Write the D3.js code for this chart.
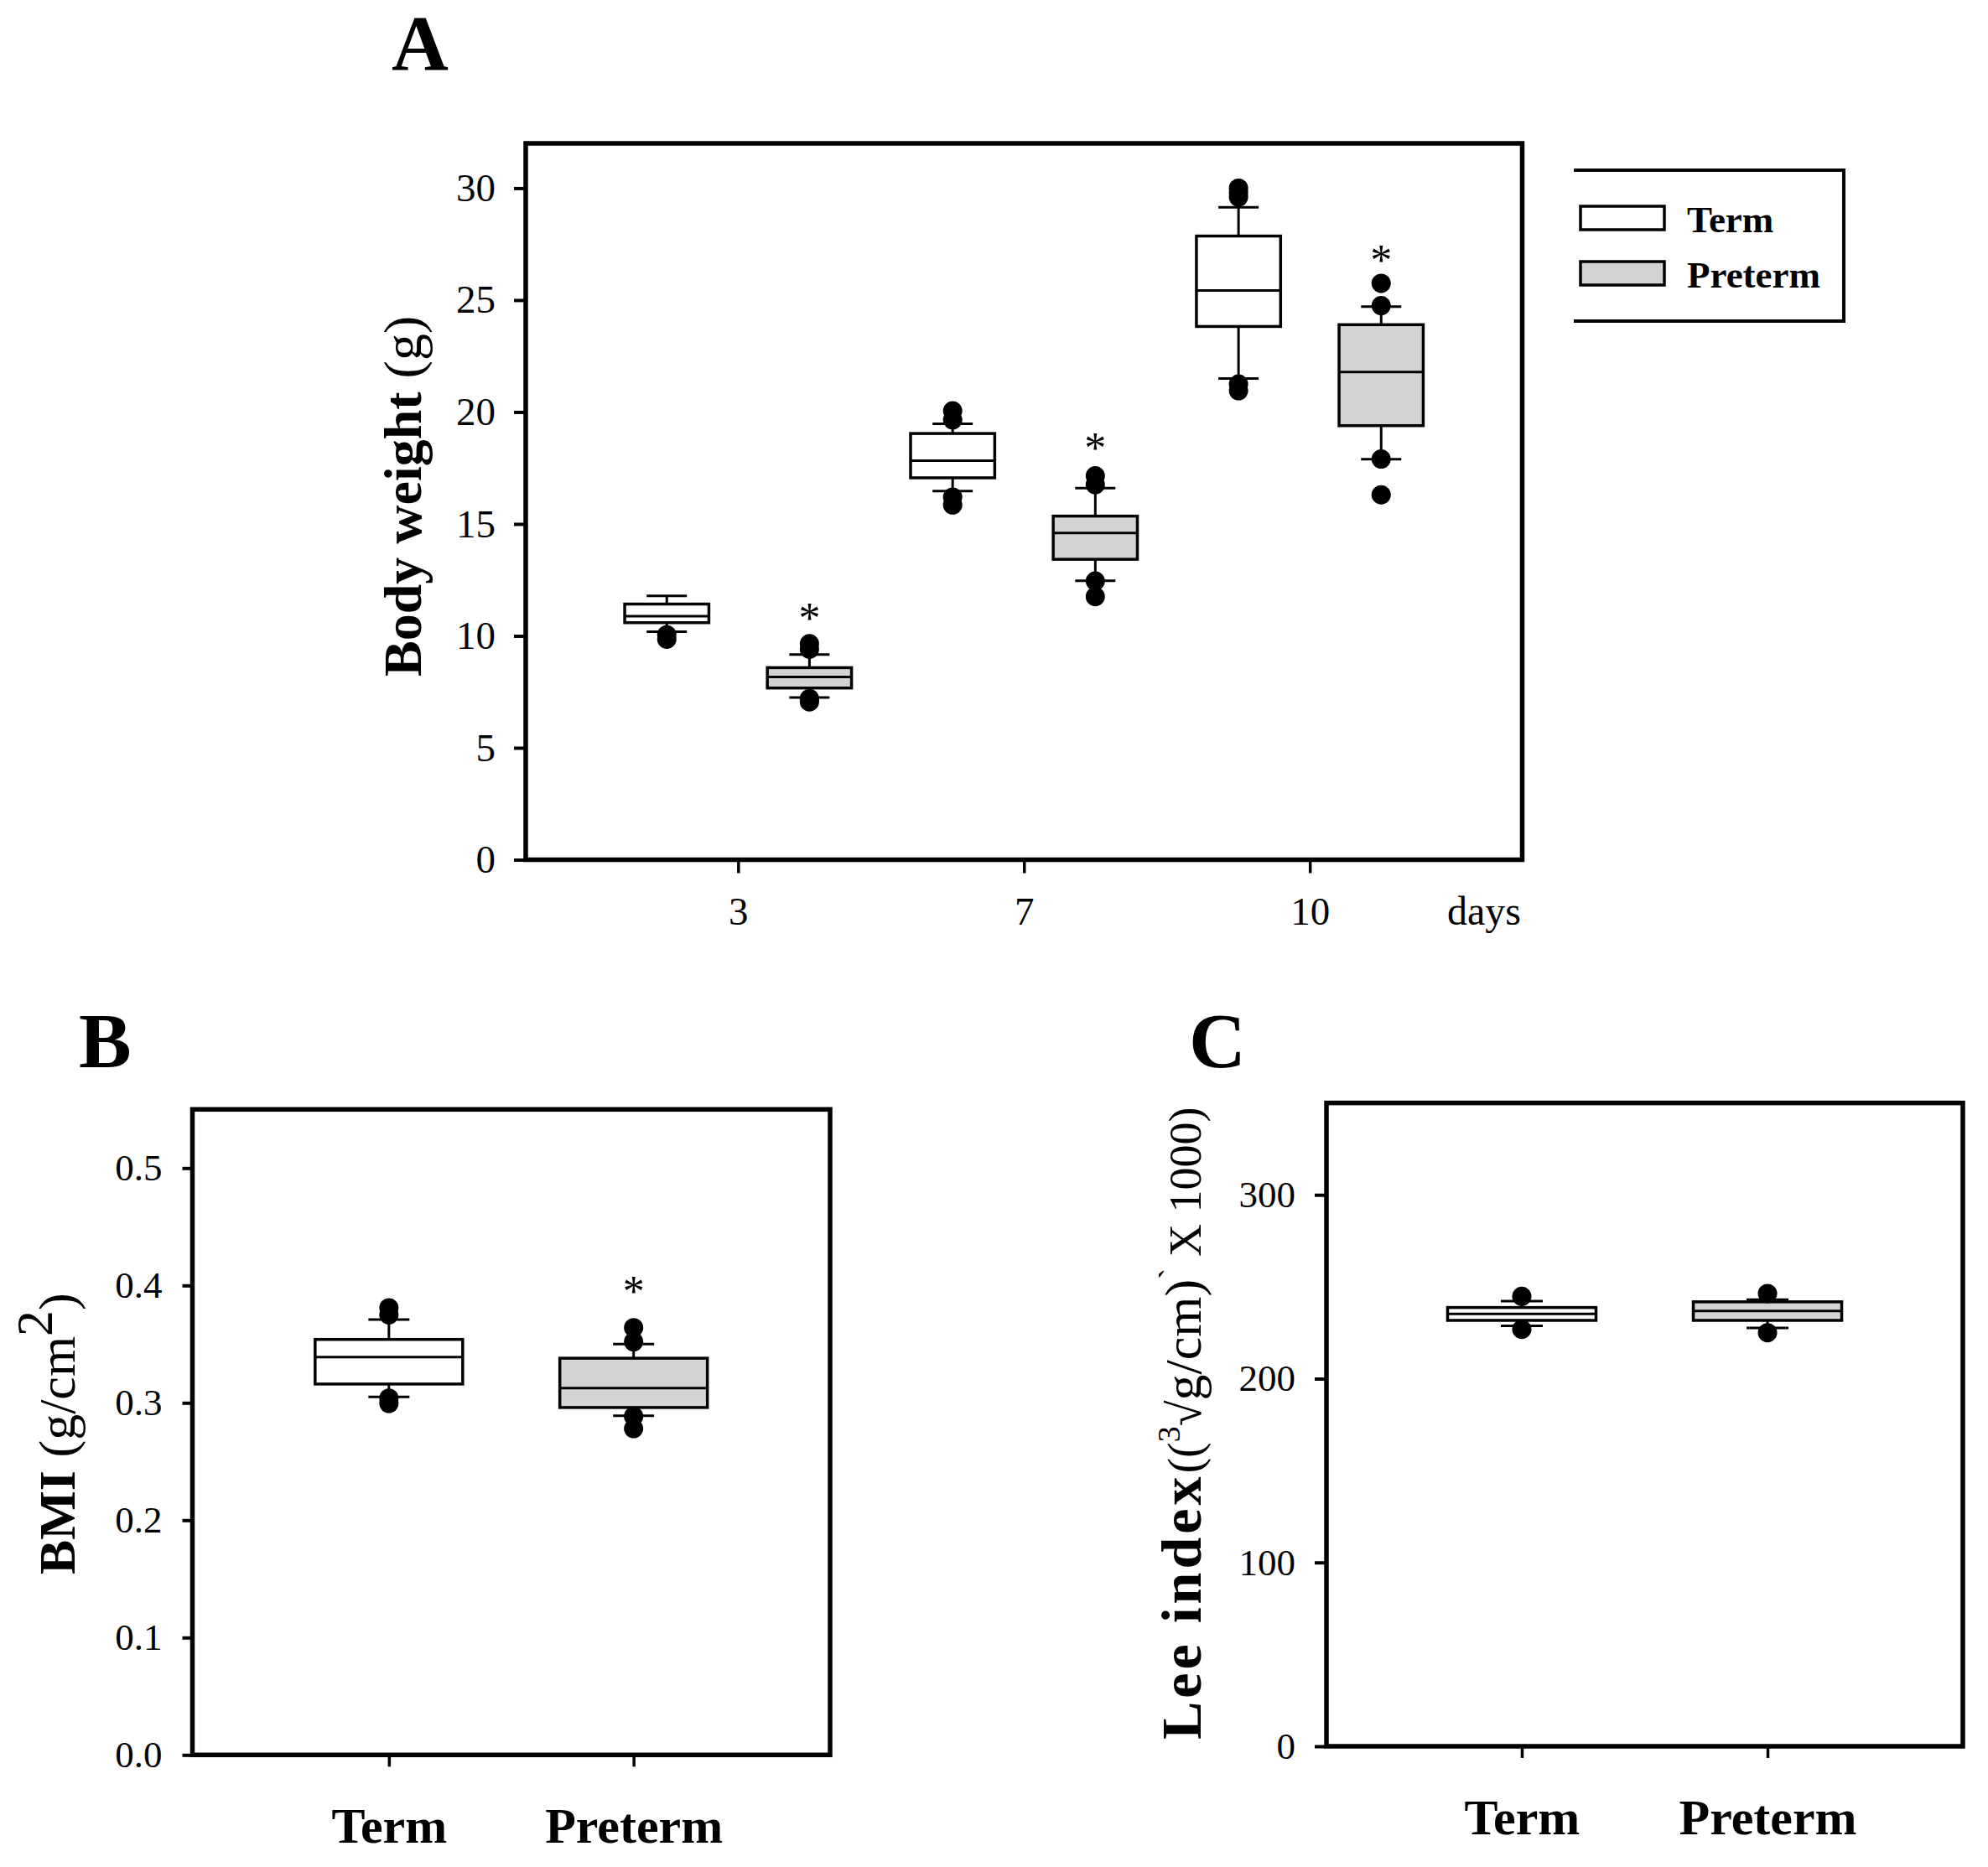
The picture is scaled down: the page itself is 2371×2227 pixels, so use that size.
<!DOCTYPE html>
<html><head><meta charset="utf-8">
<script src="https://cdn.jsdelivr.net/npm/d3@7"></script>
<style>
body{margin:0;background:#fff}
text{font-family:"Liberation Serif","Times New Roman",serif;fill:#000}
</style>
</head><body>
<svg id="chart" width="2371" height="2227"></svg>
<script>
// ---------- DATA ----------
const days = ["3", "7", "10"];
const groups = ["Term", "Preterm"];
const groupFill = ["#ffffff", "#d3d3d3"];

// Panel A: body weight (g); each entry [lowWhisker, q1, median, q3, highWhisker] per day
const weightTerm    = [[10.19, 10.59, 10.88, 11.42, 11.79], [16.47, 17.06, 17.83, 19.04, 19.47], [21.5, 23.82, 25.43, 27.86, 29.14]];
const weightPreterm = [[7.25, 7.67, 8.16, 8.58, 9.17], [12.46, 13.42, 14.6, 15.35, 16.6], [17.89, 19.39, 21.79, 23.9, 24.71]];
const weightTermOut    = [[10.05, 9.85], [20.05, 19.65, 16.2, 15.85], [30.0, 29.8, 29.6, 21.25, 20.95]];
const weightPretermOut = [[9.65, 9.4, 7.2, 7.05], [17.15, 16.75, 12.45, 11.75], [25.75, 24.75, 17.9, 16.3]];
const weightStars = [11.0, 18.6, 27.0];          // "*" above preterm boxes
const weightTicks = [0, 5, 10, 15, 20, 25, 30];

// Panel B: BMI (g/cm2), [low, q1, median, q3, high] for Term, Preterm
const bmiBox = [[0.305, 0.316, 0.339, 0.354, 0.371], [0.289, 0.296, 0.3125, 0.338, 0.350]];
const bmiOut = [[0.381, 0.375, 0.304, 0.2995], [0.364, 0.352, 0.2885, 0.278]];
const bmiStars = [null, 0.399];
const bmiTicks = [0, 0.1, 0.2, 0.3, 0.4, 0.5];

// Panel C: Lee index
const leeBox = [[228.7, 231.7, 235.2, 238.7, 242.2], [227.6, 231.7, 236.8, 241.8, 243.0]];
const leeOut = [[244.8, 226.8], [246.3, 225.0]];
const leeStars = [null, null];
const leeTicks = [0, 100, 200, 300];

// ---------- DRAWING ----------
const svg = d3.select("#chart");
const FONT = "'Liberation Serif','Times New Roman',serif";

function drawBox(g, cx, w, s, fill, y, capW) {
  const [lo, q1, md, q3, hi] = s;
  g.append("line").attr("x1", cx).attr("x2", cx).attr("y1", y(q3)).attr("y2", y(hi)).attr("stroke", "#000").attr("stroke-width", 3);
  g.append("line").attr("x1", cx).attr("x2", cx).attr("y1", y(q1)).attr("y2", y(lo)).attr("stroke", "#000").attr("stroke-width", 3);
  g.append("line").attr("x1", cx - capW / 2).attr("x2", cx + capW / 2).attr("y1", y(hi)).attr("y2", y(hi)).attr("stroke", "#000").attr("stroke-width", 3);
  g.append("line").attr("x1", cx - capW / 2).attr("x2", cx + capW / 2).attr("y1", y(lo)).attr("y2", y(lo)).attr("stroke", "#000").attr("stroke-width", 3);
  g.append("rect").attr("x", cx - w / 2).attr("width", w).attr("y", y(q3)).attr("height", y(q1) - y(q3))
    .attr("fill", fill).attr("stroke", "#000").attr("stroke-width", 3.5);
  g.append("line").attr("x1", cx - w / 2).attr("x2", cx + w / 2).attr("y1", y(md)).attr("y2", y(md)).attr("stroke", "#000").attr("stroke-width", 3);
}
function drawDots(g, cx, vals, y) {
  g.selectAll(null).data(vals).enter().append("circle")
    .attr("cx", cx).attr("cy", d => y(d)).attr("r", 11.5).attr("fill", "#000");
}
function drawStar(g, cx, v, y) {
  if (v == null) return;
  g.append("text").attr("x", cx).attr("y", y(v) + 0.45 * 52).attr("text-anchor", "middle")
    .style("font-size", "52px").text("*");
}
function styleAxis(ax, fs, sw, bold) {
  ax.select(".domain").remove();
  ax.selectAll(".tick line").attr("stroke", "#000").attr("stroke-width", sw);
  ax.selectAll(".tick text").style("font-family", FONT).style("font-size", fs + "px")
    .style("font-weight", bold ? "bold" : "normal").attr("fill", "#000");
}
function frame(f) {
  svg.append("rect").attr("x", f.l).attr("y", f.t).attr("width", f.r - f.l).attr("height", f.b - f.t)
    .attr("fill", "none").attr("stroke", "#000").attr("stroke-width", 5.5);
}

// ===== Panel A =====
{
  const f = {l: 627, r: 1815.5, t: 171, b: 1025.5};
  const x = d3.scalePoint().domain(days).range([f.l, f.r]).padding(0.743);
  const sub = d3.scaleBand().domain(groups).range([-135.25, 135.25]).paddingInner(0.41);
  const y = d3.scaleLinear().domain([0, 32]).range([f.b, f.t]);
  const g = svg.append("g");
  const sets = [weightTerm, weightPreterm], outs = [weightTermOut, weightPretermOut];
  days.forEach((d, i) => {
    groups.forEach((gr, j) => {
      const cx = x(d) + sub(gr) + sub.bandwidth() / 2;
      drawBox(g, cx, sub.bandwidth(), sets[j][i], groupFill[j], y, 48);
      drawDots(g, cx, outs[j][i], y);
      if (j === 1) drawStar(g, cx, weightStars[i], y);
    });
  });
  frame(f);
  const ay = svg.append("g").attr("transform", `translate(${f.l},0)`)
    .call(d3.axisLeft(y).tickValues(weightTicks).tickSize(14).tickPadding(22));
  styleAxis(ay, 47, 4);
  const ax = svg.append("g").attr("transform", `translate(0,${f.b})`)
    .call(d3.axisBottom(x).tickSize(16).tickPadding(28));
  styleAxis(ax, 47, 3.5);
  svg.append("text").attr("x", 1814).attr("y", 1103).attr("text-anchor", "end").style("font-size", "48px").text("days");
  const yl = svg.append("text").attr("transform", "translate(502,807) rotate(-90)").style("font-size", "64px");
  yl.append("tspan").style("font-weight", "bold").text("Body weight ");
  yl.append("tspan").text("(g)");
  svg.append("text").attr("x", 467).attr("y", 83).style("font-size", "94px").style("font-weight", "bold").text("A");
  // legend
  svg.append("path").attr("d", "M1877,203 H2199 V383 H1877").attr("fill", "none").attr("stroke", "#000").attr("stroke-width", 4);
  groups.forEach((gr, j) => {
    const top = [246, 312][j];
    svg.append("rect").attr("x", 1885).attr("y", top).attr("width", 100).attr("height", 28)
      .attr("fill", groupFill[j]).attr("stroke", "#000").attr("stroke-width", 3.5);
    svg.append("text").attr("x", 2012).attr("y", top + 31).style("font-size", "45px").style("font-weight", "bold").text(gr);
  });
}

// ===== Panel B =====
{
  const f = {l: 229.5, r: 990, t: 1323.3, b: 2093.3};
  const x = d3.scalePoint().domain(groups).range([f.l, f.r]).padding(0.803);
  const y = d3.scaleLinear().domain([0, 0.55]).range([f.b, f.t]);
  const g = svg.append("g");
  groups.forEach((gr, j) => {
    drawBox(g, x(gr), 176, bmiBox[j], groupFill[j], y, 49);
    drawDots(g, x(gr), bmiOut[j], y);
    drawStar(g, x(gr), bmiStars[j], y);
  });
  frame(f);
  const ay = svg.append("g").attr("transform", `translate(${f.l},0)`)
    .call(d3.axisLeft(y).tickValues(bmiTicks).tickFormat(d3.format(".1f")).tickSize(12).tickPadding(24));
  styleAxis(ay, 45, 4);
  const ax = svg.append("g").attr("transform", `translate(0,${f.b})`)
    .call(d3.axisBottom(x).tickSize(14).tickPadding(48));
  styleAxis(ax, 60, 3.5, true);
  const yl = svg.append("text").attr("transform", "translate(89,1878) rotate(-90)").style("font-size", "62px");
  yl.append("tspan").style("font-weight", "bold").text("BMI");
  yl.append("tspan").text(" (g/cm");
  yl.append("tspan").attr("dy", -27).text("2");
  yl.append("tspan").attr("dy", 27).text(")");
  svg.append("text").attr("x", 94).attr("y", 1273).style("font-size", "94px").style("font-weight", "bold").text("B");
}

// ===== Panel C =====
{
  const f = {l: 1582, r: 2341, t: 1315.6, b: 2083};
  const x = d3.scalePoint().domain(groups).range([f.l, f.r]).padding(0.795);
  const y = d3.scaleLinear().domain([0, 350]).range([f.b, f.t]);
  const g = svg.append("g");
  groups.forEach((gr, j) => {
    drawBox(g, x(gr), 177, leeBox[j], groupFill[j], y, 50);
    drawDots(g, x(gr), leeOut[j], y);
    drawStar(g, x(gr), leeStars[j], y);
  });
  frame(f);
  const ay = svg.append("g").attr("transform", `translate(${f.l},0)`)
    .call(d3.axisLeft(y).tickValues(leeTicks).tickSize(14).tickPadding(23));
  styleAxis(ay, 45, 4);
  const ax = svg.append("g").attr("transform", `translate(0,${f.b})`)
    .call(d3.axisBottom(x).tickSize(14).tickPadding(48));
  styleAxis(ax, 60, 3.5, true);
  const yl = svg.append("text").attr("transform", "translate(1432,2075) rotate(-90)").style("font-size", "56px");
  yl.append("tspan").style("font-weight", "bold").style("font-size", "68px").style("letter-spacing", "4px").text("Lee index");
  yl.append("tspan").text("((");
  yl.append("tspan").attr("dy", -25).style("font-size", "38px").text("3");
  yl.append("tspan").attr("dy", 25).text("\u221A");
  yl.append("tspan").style("font-size", "62px").text("g/cm)");
  yl.append("tspan").attr("dy", -22).style("font-size", "40px").text("`");
  yl.append("tspan").attr("dy", 22).style("font-size", "54px").text(" X 1000)");
  svg.append("text").attr("x", 1418).attr("y", 1273).style("font-size", "94px").style("font-weight", "bold").text("C");
}
</script>
</body></html>
